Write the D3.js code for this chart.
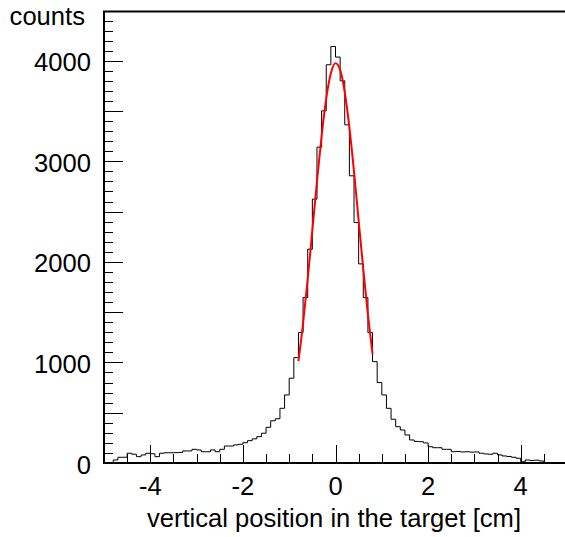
<!DOCTYPE html>
<html>
<head>
<meta charset="utf-8">
<script src="https://cdn.jsdelivr.net/npm/d3@7"></script>
<style>
    body { margin: 0; background: #fff; }
    text { font-family: "Liberation Sans", Arial, sans-serif; fill: #000; }
</style>
</head>
<body>
<script>
// histogram: 100 bins of 0.1 cm from -5 to 5
var binLow = -5,
    binWidth = 0.1;

var counts = [
    0, 0, 30, 57, 57, 97, 87, 63, 80, 97,
    92, 63, 97, 102, 102, 103, 105, 120, 120, 136,
    130, 112, 112, 130, 112, 136, 169, 169, 180, 186,
    202, 222, 240, 262, 296, 355, 420, 440, 544, 677,
    843, 1048, 1297, 1645, 2126, 2624, 3141, 3502, 3960, 4142,
    4037, 3801, 3363, 2856, 2391, 1980, 1645, 1297, 1008, 800,
    677, 544, 435, 361, 328, 279, 229, 215, 212, 200,
    162, 152, 152, 136, 136, 112, 115, 110, 112, 108,
    110, 97, 90, 87, 97, 80, 70, 65, 57, 47,
    13, 30, 25, 28, 20, 0, 0, 0, 0, 0
];

// gaussian fit
var fitX = [-0.8, -0.7, -0.6, -0.5, -0.4, -0.3, -0.2, -0.1, 0, 0.1, 0.2, 0.3, 0.4, 0.5, 0.6, 0.7, 0.8];
var fitY = [1014, 1391, 1831, 2313, 2801, 3254, 3626, 3876, 3975, 3909, 3687, 3337, 2896, 2411, 1926, 1475, 1084];

var xLabels = [-4, -2, 0, 2, 4],
    yLabels = [0, 1000, 2000, 3000, 4000];

var xTitle = "vertical position in the target [cm]",
    yTitle = "counts";

var width = 565,
    height = 537,
    fontSize = "25.6px";

var svg = d3.select("body").append("svg")
    .attr("width", width)
    .attr("height", height);

var x = d3.scaleLinear().domain([-5, 5]).range([104, 567]);
var y = d3.scaleLinear().domain([0, 4490]).range([463, 11.5]);

// frame
svg.append("rect")
    .attr("x", x(-5))
    .attr("y", y(4490))
    .attr("width", x(5) - x(-5))
    .attr("height", y(0) - y(4490))
    .attr("fill", "none")
    .attr("stroke", "#000")
    .attr("stroke-width", 2);

// y ticks: long every 500, short every 100
var yTicks = d3.range(0, 4490, 100);
svg.selectAll(".ytick")
    .data(yTicks)
    .enter().append("line")
    .attr("class", "ytick")
    .attr("x1", x(-5))
    .attr("x2", function (d) {
        return x(-5) + (d % 500 == 0 ? 19 : 9);
    })
    .attr("y1", function (d) { return Math.round(y(d)) + 0.5; })
    .attr("y2", function (d) { return Math.round(y(d)) + 0.5; })
    .attr("stroke", "#000")
    .attr("stroke-width", 1);

// x ticks: long every 2, short every 0.5
var xTicks = d3.range(-4.5, 5, 0.5);
svg.selectAll(".xtick")
    .data(xTicks)
    .enter().append("line")
    .attr("class", "xtick")
    .attr("x1", function (d) { return Math.round(x(d)) + 0.5; })
    .attr("x2", function (d) { return Math.round(x(d)) + 0.5; })
    .attr("y1", y(0))
    .attr("y2", function (d) {
        return y(0) - (Math.abs(d % 2) < 1e-6 ? 18 : 9);
    })
    .attr("stroke", "#000")
    .attr("stroke-width", 1);

svg.selectAll(".ylabel")
    .data(yLabels)
    .enter().append("text")
    .attr("class", "ylabel")
    .attr("x", 91)
    .attr("y", function (d) { return y(d) + 10.5; })
    .attr("text-anchor", "end")
    .style("font-size", fontSize)
    .text(function (d) { return d; });

svg.selectAll(".xlabel")
    .data(xLabels)
    .enter().append("text")
    .attr("class", "xlabel")
    .attr("x", function (d) { return x(d); })
    .attr("y", 495)
    .attr("text-anchor", "middle")
    .style("font-size", fontSize)
    .text(function (d) { return d; });

svg.append("text")
    .attr("x", 521)
    .attr("y", 527)
    .attr("text-anchor", "end")
    .style("font-size", fontSize)
    .text(xTitle);

svg.append("text")
    .attr("x", 85)
    .attr("y", 25)
    .attr("text-anchor", "end")
    .style("font-size", fontSize)
    .text(yTitle);

// histogram outline as steps
var steps = [[binLow, 0]];
counts.forEach(function (c, i) {
    steps.push([binLow + i * binWidth, c]);
    steps.push([binLow + (i + 1) * binWidth, c]);
});
steps.push([binLow + counts.length * binWidth, 0]);

var line = d3.line()
    .x(function (d) { return x(d[0]); })
    .y(function (d) { return y(d[1]); });

svg.append("path")
    .datum(steps)
    .attr("d", line)
    .attr("fill", "none")
    .attr("stroke", "#000")
    .attr("stroke-width", 1);

var fitLine = d3.line()
    .x(function (d, i) { return x(fitX[i]); })
    .y(function (d) { return y(d); })
    .curve(d3.curveMonotoneX);

svg.append("path")
    .datum(fitY)
    .attr("d", fitLine)
    .attr("fill", "none")
    .attr("stroke", "#f00")
    .attr("stroke-width", 2);
</script>
</body>
</html>
